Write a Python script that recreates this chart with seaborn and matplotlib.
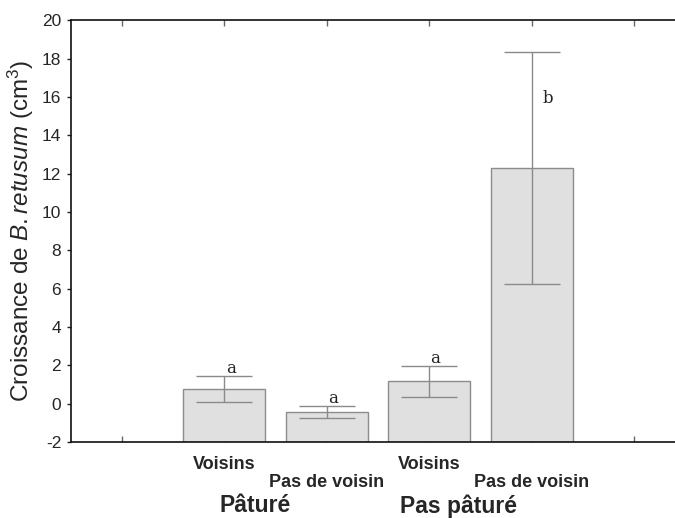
import matplotlib
matplotlib.use("Agg")
import matplotlib.pyplot as plt
import seaborn as sns
import pandas as pd

# values
conditions = ["Pâturé / Voisins", "Pâturé / Pas de voisin", "Pas pâturé / Voisins", "Pas pâturé / Pas de voisin"]
means = [0.75, -0.45, 1.15, 12.3]
errors = [0.69, 0.32, 0.80, 6.05]
letters = ["a", "a", "a", "b"]
neighbour_labels = ["Voisins", "Pas de voisin", "Voisins", "Pas de voisin"]
grazing_labels = ["Pâturé", "Pas pâturé"]
y_ticks = list(range(-2, 21, 2))
BASE = -2

df = pd.DataFrame({"cond": conditions, "croissance": means})

sns.set_theme(style="white")
plt.rcParams["font.family"] = ["Liberation Sans", "DejaVu Sans"]
plt.rcParams["mathtext.fontset"] = "custom"
plt.rcParams["mathtext.rm"] = "Liberation Sans"
plt.rcParams["mathtext.it"] = "Liberation Sans:italic"

fig = plt.figure(figsize=(6.75, 5.18), dpi=100)
ax = fig.add_axes([0.105, 0.147, 0.91, 0.814])

sns.barplot(data=df, x="cond", y="croissance", order=conditions, color="#e0e0e0",
            edgecolor="#8c8c8c", linewidth=1, width=0.8, errorbar=None, saturation=1, ax=ax)

# bars in the original start from the bottom of the axis
for p, v in zip(ax.patches, means):
    p.set_y(BASE)
    p.set_height(v - BASE)

xs = [p.get_x() + p.get_width() / 2 for p in ax.patches]
ax.errorbar(xs, means, yerr=errors, fmt="none", ecolor="#8a8a8a", elinewidth=1,
            capsize=20, capthick=1, zorder=3)

for x, m, e, lt in zip(xs, means, errors, letters):
    if lt == "b":
        ax.text(x + 0.16, 15.9, lt, ha="center", va="center", fontsize=12,
                family="DejaVu Serif", color="#222222")
    else:
        ax.text(x + 0.06, m + e + 0.38, lt, ha="center", va="center", fontsize=12,
                family="DejaVu Serif", color="#222222")

ax.set_xlim(-1.5, 4.5)
ax.set_ylim(-2, 20)
ax.set_xticks(range(-1, 5))
ax.set_xticklabels([])
ax.set_yticks(y_ticks)
ax.set_yticklabels([str(t) for t in y_ticks], fontsize=12.5)
ax.tick_params(axis="x", direction="in", length=4, width=1, color="#666666",
               top=True, bottom=True)
ax.tick_params(axis="y", direction="out", length=3, width=1, color="#222222",
               left=True, pad=4)
ax.set_xlabel("")
ax.set_ylabel(r"Croissance de $\it{B. retusum}$ (cm$^3$)", fontsize=17.5, labelpad=4)

for s in ["top", "bottom", "left"]:
    ax.spines[s].set_color("#111111")
    ax.spines[s].set_linewidth(1.2)
ax.spines["right"].set_visible(False)

# category labels under the axis
for i, (x, lab) in enumerate(zip(xs, neighbour_labels)):
    yoff = -0.0545 if i % 2 == 0 else -0.097
    ax.text(x, yoff, lab, transform=ax.get_xaxis_transform(), ha="center", va="center",
            fontsize=13, fontweight="bold")
for gx, lab in zip([0.3, 2.29], grazing_labels):
    ax.text(gx, -0.152, lab, transform=ax.get_xaxis_transform(), ha="center", va="center",
            fontsize=16.5, fontweight="bold")

fig.savefig("out.png", dpi=100)
